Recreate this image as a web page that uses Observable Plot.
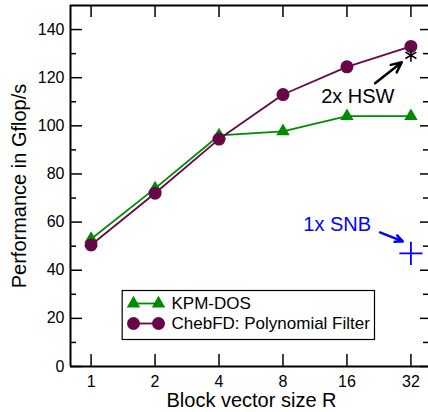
<!DOCTYPE html>
<html><head><meta charset="utf-8">
<script src="https://cdn.jsdelivr.net/npm/d3@7"></script>
<script src="https://cdn.jsdelivr.net/npm/@observablehq/plot@0.6"></script>
<style>body{margin:0;background:#fff;overflow:hidden}</style>
</head><body><div id="chart"></div>
<script>
const blockSizes = [1, 2, 4, 8, 16, 32];
const kpmDos = [53, 74, 96, 97.7, 104, 104];
const chebFD = [50.5, 72, 94.5, 113, 124.5, 133];
const yMajorTicks = [0, 20, 40, 60, 80, 100, 120, 140];
const yMinorTicks = [10, 30, 50, 70, 90, 110, 130];
const hsw = [{x: 32, y: 129.3}];
const snb = [{x: 32, y: 47}];
const annotations = [
  {label: "2x HSW", x: 18.0, y: 109.4, color: "#000", x1: 21.7, y1: 117.7, x2: 29.0, y2: 126.4},
  {label: "1x SNB", x: 14.4, y: 56.1, color: "#0000ff", x1: 22.9, y1: 55.7, x2: 29.3, y2: 52.0}
];
const legendItems = ["KPM-DOS", "ChebFD: Polynomial Filter"];

const green = "#008b00", maroon = "#670748";
const kpmData = blockSizes.map((r, i) => ({r, v: kpmDos[i]}));
const chebData = blockSizes.map((r, i) => ({r, v: chebFD[i]}));
const font = "Liberation Sans, Arial, Helvetica, sans-serif";

const W = 428, H = 412, mL = 70, mT = 5, mB = 46, mR = 0;
const fw = W - mL - mR, fh = H - mT - mB;

const chart = Plot.plot({
  width: W, height: H,
  marginLeft: mL, marginTop: mT, marginBottom: mB, marginRight: mR,
  style: {fontFamily: font, background: "#fff", color: "#000"},
  x: {type: "log", base: 2, domain: [0.8, 40], range: [70, 431], axis: null},
  y: {domain: [0, 150], range: [366, 5], axis: null},
  marks: [
    // frame lines
    Plot.ruleX([0.8], {stroke: "#000", strokeWidth: 2}),
    Plot.ruleY([0, 150], {stroke: "#000", strokeWidth: 2}),
    // x ticks bottom & top
    Plot.ruleX(blockSizes, {x: d => d, insetTop: fh - 12, stroke: "#000", strokeWidth: 1.5}),
    Plot.ruleX(blockSizes, {x: d => d, insetBottom: fh - 12, stroke: "#000", strokeWidth: 1.5}),
    // y ticks left
    Plot.ruleY(yMajorTicks, {y: d => d, insetRight: fw - 12, stroke: "#000", strokeWidth: 1.5}),
    Plot.ruleY(yMinorTicks, {y: d => d, insetRight: fw - 6, stroke: "#000", strokeWidth: 1.5}),
    // y ticks right (frame edge beyond view)
    Plot.ruleY(yMajorTicks, {y: d => d, insetLeft: fw - 8, stroke: "#000", strokeWidth: 1.5}),
    Plot.ruleY(yMinorTicks, {y: d => d, insetLeft: fw - 5, stroke: "#000", strokeWidth: 1.5}),
    // tick labels
    Plot.text(blockSizes, {x: d => d, frameAnchor: "bottom", dy: 20, lineAnchor: "bottom", text: d => String(d), fontSize: 16, fill: "#000"}),
    Plot.text(yMajorTicks, {y: d => d, frameAnchor: "left", dx: -6, textAnchor: "end", lineAnchor: "middle", text: d => String(d), fontSize: 16, fill: "#000"}),
    // axis titles
    Plot.text(["Block vector size R"], {frameAnchor: "bottom", dx: 2, dy: 40, textAnchor: "middle", lineAnchor: "bottom", fontSize: 20, fill: "#000"}),
    Plot.text(["Performance in Gflop/s"], {frameAnchor: "left", dx: -51, rotate: -90, textAnchor: "middle", lineAnchor: "middle", fontSize: 20, fill: "#000"}),
    // series
    Plot.line(kpmData, {x: "r", y: "v", stroke: green, strokeWidth: 1.8}),
    Plot.dot(kpmData, {x: "r", y: "v", symbol: "triangle", r: 5, fill: green, stroke: "none"}),
    Plot.line(chebData, {x: "r", y: "v", stroke: maroon, strokeWidth: 1.8}),
    Plot.dot(chebData, {x: "r", y: "v", symbol: "circle", r: 6.5, fill: maroon, stroke: "none"}),
    // extra points
    Plot.dot(hsw, {x: "x", y: "y", symbol: "asterisk", r: 6, stroke: "#000", strokeWidth: 1.6, fill: "none"}),
    Plot.dot(snb, {x: "x", y: "y", symbol: "plus", r: 7.5, stroke: "#0000ff", strokeWidth: 1.8, fill: "none"}),
    // annotations
    Plot.arrow(annotations, {x1: "x1", y1: "y1", x2: "x2", y2: "y2", stroke: "color", strokeWidth: 2.5, headLength: 9, headAngle: 50}),
    Plot.text(annotations, {x: "x", y: "y", text: "label", fill: "color", fontSize: 20, lineAnchor: "bottom", textAnchor: "middle"}),
    // legend box
    Plot.frame({insetLeft: 121.7 - mL, insetRight: W - 374, insetTop: 290 - mT, insetBottom: 366 - 339, stroke: "#000", strokeWidth: 1.2, fill: "#fff"}),
    Plot.frame({insetLeft: 133 - mL, insetRight: W - 158, insetTop: 303 - 0.9 - mT, insetBottom: 366 - 303 - 0.9, fill: green, stroke: "none"}),
    Plot.frame({insetLeft: 133 - mL, insetRight: W - 158, insetTop: 323 - 0.9 - mT, insetBottom: 366 - 323 - 0.9, fill: maroon, stroke: "none"}),
    Plot.dot([0], {frameAnchor: "top-left", dx: 133 - mL, dy: 303 - mT, symbol: "triangle", r: 5, fill: green, stroke: "none"}),
    Plot.dot([0], {frameAnchor: "top-left", dx: 158 - mL, dy: 303 - mT, symbol: "triangle", r: 5, fill: green, stroke: "none"}),
    Plot.dot([0], {frameAnchor: "top-left", dx: 133 - mL, dy: 323 - mT, symbol: "circle", r: 6.5, fill: maroon, stroke: "none"}),
    Plot.dot([0], {frameAnchor: "top-left", dx: 158 - mL, dy: 323 - mT, symbol: "circle", r: 6.5, fill: maroon, stroke: "none"}),
    Plot.text([legendItems[0]], {frameAnchor: "top-left", dx: 171 - mL, dy: 303 - mT, textAnchor: "start", lineAnchor: "middle", fontSize: 17, fill: "#000"}),
    Plot.text([legendItems[1]], {frameAnchor: "top-left", dx: 171 - mL, dy: 323 - mT, textAnchor: "start", lineAnchor: "middle", fontSize: 17, fill: "#000"})
  ]
});
document.getElementById("chart").append(chart);
</script></body></html>
